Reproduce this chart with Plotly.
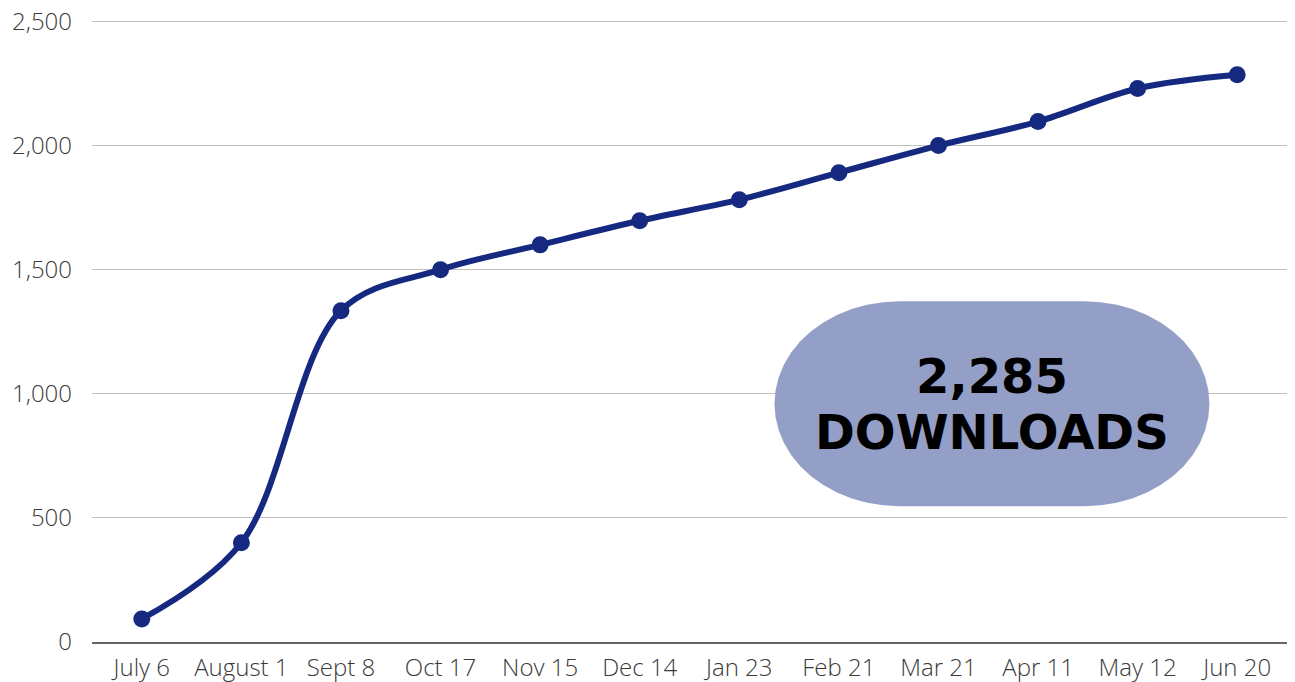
import math
import plotly.graph_objects as go

dates = ["July 6", "August 1", "Sept 8", "Oct 17", "Nov 15", "Dec 14",
         "Jan 23", "Feb 21", "Mar 21", "Apr 11", "May 12", "Jun 20"]
downloads = [93, 400, 1335, 1500, 1600, 1697, 1782, 1891, 2000, 2097, 2230, 2285]
y_ticks = [0, 500, 1000, 1500, 2000, 2500]

navy = "#14297f"

fig = go.Figure()
fig.add_trace(go.Scatter(
    x=dates, y=downloads,
    mode="lines+markers",
    line=dict(color=navy, width=6, shape="spline", smoothing=1),
    marker=dict(color=navy, size=17),
    hoverinfo="x+y",
))


def pill_path(w, h, rx, ry, n=24):
    # rounded rectangle with elliptical ends, in pixels around (0, 0)
    pts = []
    cx = w / 2 - rx
    for i in range(n + 1):
        a = -math.pi / 2 + math.pi * i / n
        pts.append((cx + rx * math.cos(a), ry * math.sin(a)))
    for i in range(n + 1):
        a = math.pi / 2 + math.pi * i / n
        pts.append((-cx + rx * math.cos(a), ry * math.sin(a)))
    return "M " + " L ".join(f"{x:.1f},{y:.1f}" for x, y in pts) + " Z"


cx_paper, cy_paper = 0.7531, 0.383
fig.add_shape(type="path", path=pill_path(435, 205, 125, 102.5),
              xref="paper", yref="paper",
              xsizemode="pixel", ysizemode="pixel",
              xanchor=cx_paper, yanchor=cy_paper,
              fillcolor="#949fc8", line=dict(width=0), layer="above")

callout_font = dict(family="DejaVu Sans", size=48, color="#000000", weight=700)
fig.add_annotation(x=cx_paper, y=cy_paper, xref="paper", yref="paper",
                   xanchor="center", yanchor="middle", yshift=28,
                   text="2,285", showarrow=False, font=callout_font)
fig.add_annotation(x=cx_paper, y=cy_paper, xref="paper", yref="paper",
                   xanchor="center", yanchor="middle", yshift=-28,
                   text="DOWNLOADS", showarrow=False, font=callout_font)

fig.update_layout(
    width=1295, height=682, autosize=False,
    margin=dict(l=92, r=8, t=20, b=40),
    paper_bgcolor="white", plot_bgcolor="white",
    showlegend=False,
    font=dict(family="Open Sans", color="#3a3a3a", size=24, weight=300),
    xaxis=dict(
        type="category", showgrid=False, showline=True,
        linecolor="#666666", linewidth=1.5, ticks="",
        tickfont=dict(size=24, weight=300, color="#3a3a3a"),
        ticklabelstandoff=3,
        range=[-0.5, 11.5], fixedrange=True, automargin=False,
    ),
    yaxis=dict(
        # a little headroom so the 2,500 gridline is not clipped at the edge
        range=[0, 2506], tickvals=y_ticks, tickformat=",",
        showgrid=True, gridcolor="#c0c0c0", gridwidth=1.3,
        zeroline=False, ticks="", ticklabelstandoff=19,
        tickfont=dict(size=24, weight=300, color="#3a3a3a"),
        fixedrange=True, automargin=False,
    ),
)

# drop the default 8px page margin so the figure fills the window exactly
fig.write_html("out.html", config={"displayModeBar": False},
               post_script="document.body.style.margin='0';document.body.style.overflow='hidden';")
